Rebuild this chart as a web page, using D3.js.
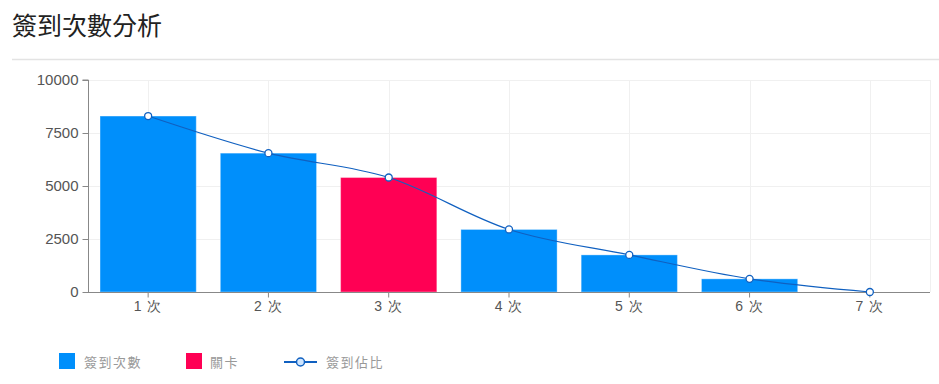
<!DOCTYPE html>
<html><head><meta charset="utf-8">
<script src="https://cdn.jsdelivr.net/npm/d3@7/dist/d3.min.js"></script>
<style>
body{margin:0;background:#fff;font-family:"Noto Sans CJK TC","Noto Sans",sans-serif;}
</style></head>
<body><svg id="c" width="939" height="384"></svg>
<script>
const categories = ["1 次","2 次","3 次","4 次","5 次","6 次","7 次"];
const countValues = [8300, 6550, 5400, 2950, 1750, 620, 0];
const levelFlags = [false, false, true, false, false, false, false];
const ratioValues = [8300, 6550, 5400, 2950, 1750, 620, 0];
const yTicks = [0, 2500, 5000, 7500, 10000];
const seriesNames = ["簽到次數", "關卡", "簽到佔比"];
const title = "簽到次數分析";

const svg = d3.select("#c");
const blue = "#008FFB", red = "#FF0054", lineC = "#1060C0";
const M = {l:88, r:930, t:80, b:292};

svg.append("text").attr("x",12).attr("y",35).attr("font-size",25).attr("fill","#222").text(title);
svg.append("line").attr("x1",12).attr("x2",939).attr("y1",59.5).attr("y2",59.5).attr("stroke","#e3e3e3").attr("stroke-width",1.5);

const x = d3.scaleBand().domain(categories).range([M.l, M.r]).paddingInner(0.2).paddingOuter(0.1);
const y = d3.scaleLinear().domain([0,10000]).range([M.b, M.t]);
const cx = d => x(d) + x.bandwidth()/2;

const g = svg.append("g");
g.selectAll(".hg").data(yTicks.slice(1)).join("line")
  .attr("x1",M.l).attr("x2",M.r).attr("y1",d=>Math.round(y(d))+0.5).attr("y2",d=>Math.round(y(d))+0.5)
  .attr("stroke","#f0f0f0");
g.selectAll(".vg").data(categories).join("line")
  .attr("x1",d=>Math.round(cx(d))+0.5).attr("x2",d=>Math.round(cx(d))+0.5).attr("y1",M.t).attr("y2",M.b)
  .attr("stroke","#f0f0f0");
g.append("line").attr("x1",M.r+0.5).attr("x2",M.r+0.5).attr("y1",M.t).attr("y2",M.b).attr("stroke","#f0f0f0");

g.selectAll(".bar").data(categories).join("rect")
  .attr("x",d=>x(d)).attr("width",x.bandwidth())
  .attr("y",(d,i)=>y(countValues[i])).attr("height",(d,i)=>y(0)-y(countValues[i]))
  .attr("fill",(d,i)=>levelFlags[i]?red:blue)
  .attr("stroke","rgba(255,255,255,0.35)").attr("stroke-width",1);

const ya = svg.append("g").attr("transform",`translate(${M.l+0.5},0)`)
  .call(d3.axisLeft(y).tickValues(yTicks).tickFormat(d3.format("d")).tickSize(6).tickPadding(4));
ya.select(".domain").attr("stroke","#888").attr("d",`M-6,${M.t}H0V${M.b}`);
ya.selectAll(".tick line").attr("stroke","#888");
ya.selectAll("text").attr("font-size",15).attr("fill","#555").attr("font-family","Liberation Sans, Arial, sans-serif");

const xa = svg.append("g").attr("transform",`translate(0,${M.b+0.5})`)
  .call(d3.axisBottom(x).tickSize(5).tickPadding(4).tickSizeOuter(0));
xa.select(".domain").attr("stroke","#888").attr("d",`M${M.l},0H${M.r}`);
xa.selectAll(".tick line").attr("stroke","#888");
xa.selectAll("text").attr("font-size",14).attr("fill","#555").attr("letter-spacing",1);

const line = d3.line().x((d,i)=>cx(categories[i])).y(d=>y(d)).curve(d3.curveMonotoneX);
svg.append("path").datum(ratioValues).attr("d",line).attr("fill","none").attr("stroke",lineC).attr("stroke-width",1.2);
svg.selectAll(".pt").data(ratioValues).join("circle")
  .attr("cx",(d,i)=>cx(categories[i])).attr("cy",d=>y(d)).attr("r",3.5)
  .attr("fill","#fff").attr("stroke",lineC).attr("stroke-width",1.3);

const lg = svg.append("g");
lg.append("rect").attr("x",59).attr("y",353).attr("width",16).attr("height",16).attr("fill",blue);
lg.append("text").attr("x",84).attr("y",366.5).text(seriesNames[0]);
lg.append("rect").attr("x",186).attr("y",353).attr("width",16).attr("height",16).attr("fill",red);
lg.append("text").attr("x",210).attr("y",366.5).text(seriesNames[1]);
lg.append("line").attr("x1",284).attr("x2",317).attr("y1",362).attr("y2",362).attr("stroke",lineC).attr("stroke-width",2.2);
lg.append("circle").attr("cx",300.5).attr("cy",362).attr("r",4).attr("fill","#cfe6ff").attr("stroke",lineC).attr("stroke-width",1.5);
lg.append("text").attr("x",326).attr("y",366.5).text(seriesNames[2]);
lg.selectAll("text").attr("font-size",13).attr("fill","#999").attr("letter-spacing",1.5);
</script></body></html>
